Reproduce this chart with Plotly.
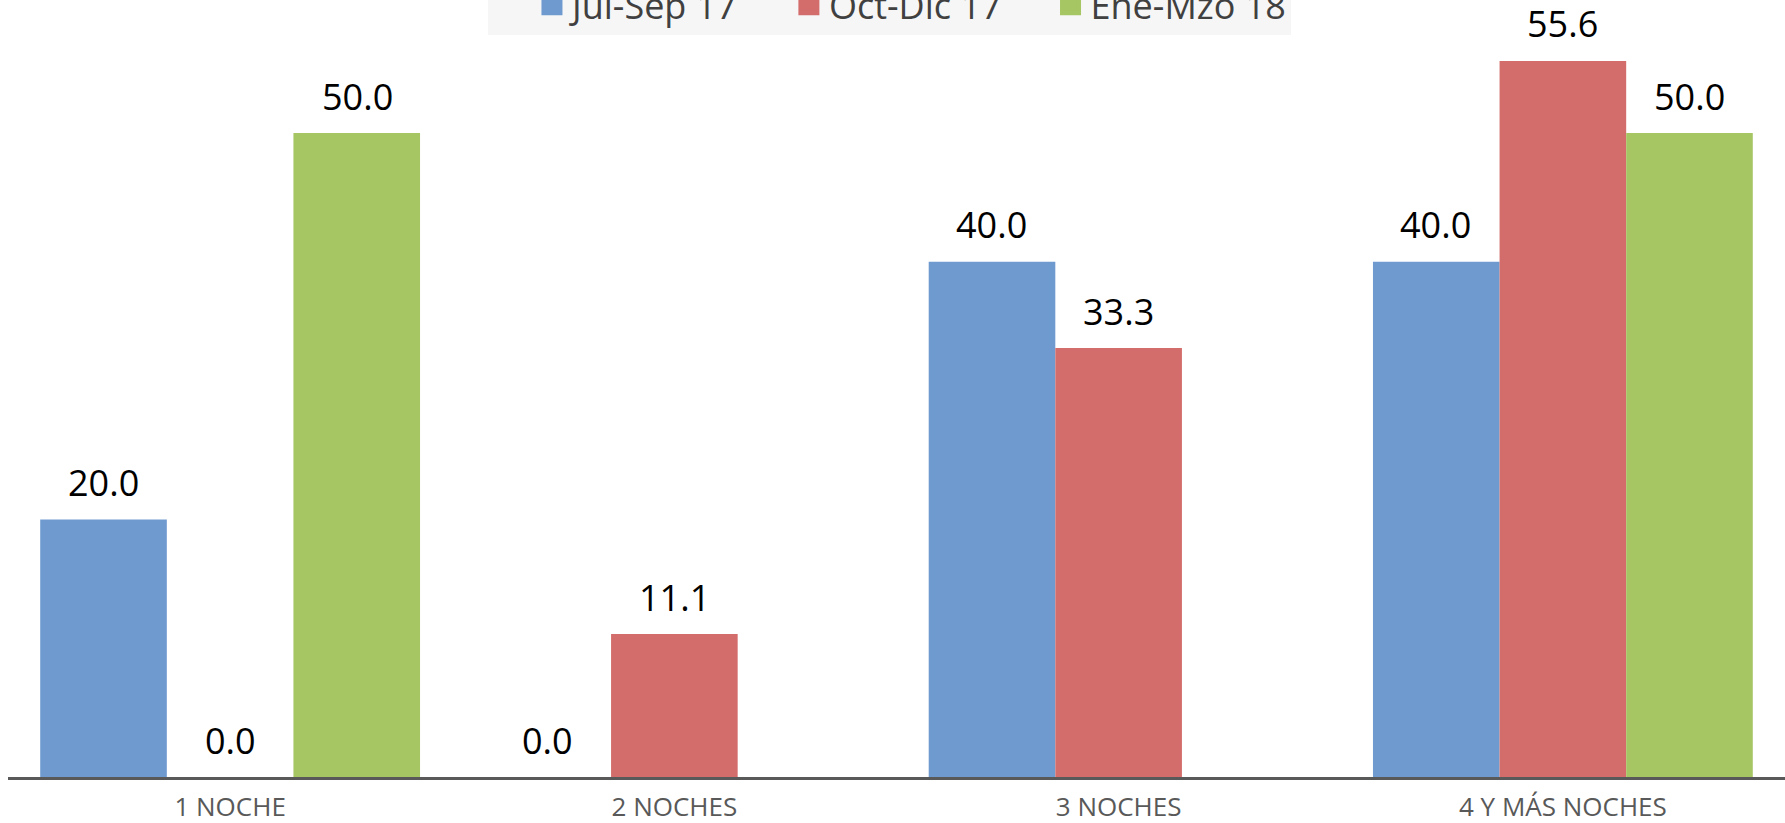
import plotly.graph_objects as go

# datos: distribucion por numero de noches (%)
categorias = ["1 NOCHE", "2 NOCHES", "3 NOCHES", "4 Y MÁS NOCHES"]
series = ["Jul-Sep 17", "Oct-Dic 17", "Ene-Mzo 18"]
jul_sep_17 = [20.0, 0.0, 40.0, 40.0]
oct_dic_17 = [0.0, 11.1, 33.3, 55.6]
ene_mzo_18 = [50.0, 0.0, 0.0, 50.0]
valores = [jul_sep_17, oct_dic_17, ene_mzo_18]
colores = ["#6E9ACF", "#D36D6C", "#A6C563"]
# ene-mzo no tiene etiqueta en 2 y 3 noches
mostrar = [[True] * 4, [True] * 4, [True, False, False, True]]

fig = go.Figure()

for nombre, vals, color in zip(series, valores, colores):
    fig.add_trace(go.Bar(
        x=categorias, y=vals, name=nombre,
        marker=dict(color=color, line=dict(width=0)),
        showlegend=False, hoverinfo="x+y+name",
    ))

# entradas de leyenda con cuadros mas grandes
for nombre, color in zip(series, colores):
    fig.add_trace(go.Scatter(
        x=[None], y=[None], mode="markers", name=nombre,
        marker=dict(symbol="square", size=16, color=color,
                    line=dict(color=color, width=5)),
    ))

# etiquetas de datos
desplaz = [-127, 0, 127]
for vals, dx, ver in zip(valores, desplaz, mostrar):
    for cat, v, m in zip(categorias, vals, ver):
        if not m:
            continue
        fig.add_annotation(
            x=cat, y=v, text=f"{v:.1f}", showarrow=False,
            xshift=dx, yshift=37, yanchor="middle",
            font=dict(family="Open Sans", size=36, color="#000000"),
        )

fig.update_layout(
    width=1785, height=823,
    margin=dict(l=8, r=0, t=0, b=46, autoexpand=False),
    paper_bgcolor="white", plot_bgcolor="white",
    barmode="group", bargap=0.145, bargroupgap=0,
    legend=dict(
        orientation="h", x=0.2701, xanchor="left", y=0.955, yanchor="bottom",
        bgcolor="#F6F6F6", indentation=44,
        font=dict(family="Open Sans", size=36, color="#404040"),
    ),
    xaxis=dict(
        type="category", showline=True, linecolor="#595959", linewidth=2.5,
        ticks="", showgrid=False, zeroline=False,
        tickfont=dict(family="Open Sans", size=26, color="#595959"),
        ticklabelstandoff=5,
    ),
    yaxis=dict(
        range=[0, 60.33], visible=False, showgrid=False, zeroline=False,
    ),
)

fig.write_html(
    "out.html",
    config={"displayModeBar": False},
    post_script="document.body.style.margin='0px';",
)
